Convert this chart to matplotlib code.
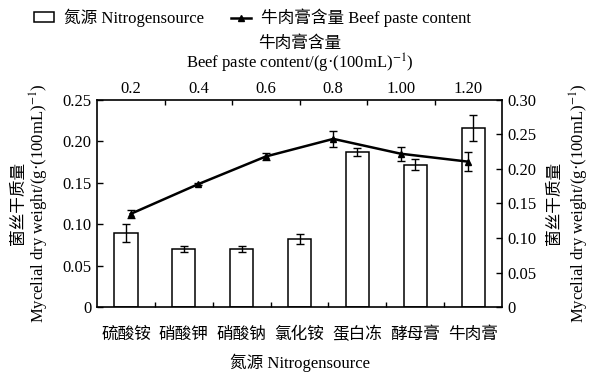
import numpy as np
import matplotlib
matplotlib.use('Agg')
import matplotlib.pyplot as plt
from matplotlib.ticker import FixedLocator

plt.rcParams['font.family'] = ['Liberation Serif', 'Noto Sans CJK SC']
plt.rcParams['mathtext.fontset'] = 'stix'
plt.rcParams['font.size'] = 12

# nitrogen source (bars, left axis)
nitrogen = ['硫酸铵', '硝酸钾', '硝酸钠', '氯化铵', '蛋白冻', '酵母膏', '牛肉膏']
weight_n = [0.089, 0.070, 0.070, 0.0825, 0.187, 0.172, 0.216]
err_n = [0.011, 0.004, 0.004, 0.006, 0.005, 0.0065, 0.016]

# beef paste content (line, right axis)
beef = ['0.2', '0.4', '0.6', '0.8', '1.00', '1.20']
weight_b = [0.135, 0.178, 0.218, 0.2435, 0.222, 0.2105]
err_b = [0.006, 0.002, 0.005, 0.012, 0.010, 0.014]

ylab = '菌丝干质量\nMycelial dry weight/(g·(100mL)$^{-1}$)'

fig = plt.figure(figsize=(5.92, 3.74), dpi=100)
pos = [0.164, 0.179, 0.684, 0.554]
ax = fig.add_axes(pos)

xn = np.arange(len(nitrogen))
bars = ax.bar(xn, weight_n, width=0.4, color='white', edgecolor='black', linewidth=1.1,
              yerr=err_n, error_kw=dict(ecolor='black', elinewidth=1, capsize=3, capthick=1))
ax.set_xlim(-0.5, len(nitrogen) - 0.5)
ax.set_ylim(0, 0.25)
ax.set_yticks([0, 0.05, 0.10, 0.15, 0.20, 0.25])
ax.set_yticklabels(['0', '0.05', '0.10', '0.15', '0.20', '0.25'])
ax.set_xticks(xn)
ax.set_xticklabels(nitrogen)
ax.xaxis.set_minor_locator(FixedLocator(xn[:-1] + 0.5))
ax.tick_params(axis='x', which='major', length=0, pad=14)
ax.tick_params(axis='x', which='minor', direction='in', length=3.5, width=1)
ax.tick_params(axis='y', direction='in', length=4, width=1, pad=4)
ax.set_xlabel('氮源 Nitrogensource', labelpad=8)
ax.set_ylabel(ylab, labelpad=8, linespacing=1.05)
for s in ax.spines.values():
    s.set_linewidth(1.2)

# second axes: beef paste on top, right y-axis
ax2 = fig.add_axes(pos, frameon=False)
ax2.patch.set_visible(False)
xb = np.arange(len(beef))
line, = ax2.plot(xb, weight_b, color='black', lw=1.8, marker='^', ms=4.5)
ax2.errorbar(xb, weight_b, yerr=err_b, fmt='none', ecolor='black', elinewidth=1,
             capsize=3, capthick=1)
ax2.set_xlim(-0.5, len(beef) - 0.5)
ax2.set_ylim(0, 0.30)
ax2.xaxis.tick_top()
ax2.yaxis.tick_right()
ax2.set_xticks(xb)
ax2.set_xticklabels(beef)
ax2.xaxis.set_minor_locator(FixedLocator(xb[:-1] + 0.5))
ax2.tick_params(axis='x', which='major', length=0, pad=2)
ax2.tick_params(axis='x', which='minor', direction='in', length=3.5, width=1, top=True, bottom=False)
ax2.tick_params(axis='y', direction='in', length=4, width=1, pad=4)
ax2.set_yticks([0, 0.05, 0.10, 0.15, 0.20, 0.25, 0.30])
ax2.set_yticklabels(['0', '0.05', '0.10', '0.15', '0.20', '0.25', '0.30'])
ax2.xaxis.set_label_position('top')
ax2.yaxis.set_label_position('right')
ax2.set_xlabel('牛肉膏含量\nBeef paste content/(g·(100mL)$^{-1}$)', labelpad=9, linespacing=1.0)
ax2.set_ylabel(ylab, labelpad=7, linespacing=1.3)

fig.legend([bars, line], ['氮源 Nitrogensource', '牛肉膏含量 Beef paste content'],
           loc='center', bbox_to_anchor=(0.426, 0.953), ncol=2, frameon=False,
           handlelength=1.2, handleheight=0.5, columnspacing=1.6, handletextpad=0.6)

fig.savefig('out.png', dpi=100)
